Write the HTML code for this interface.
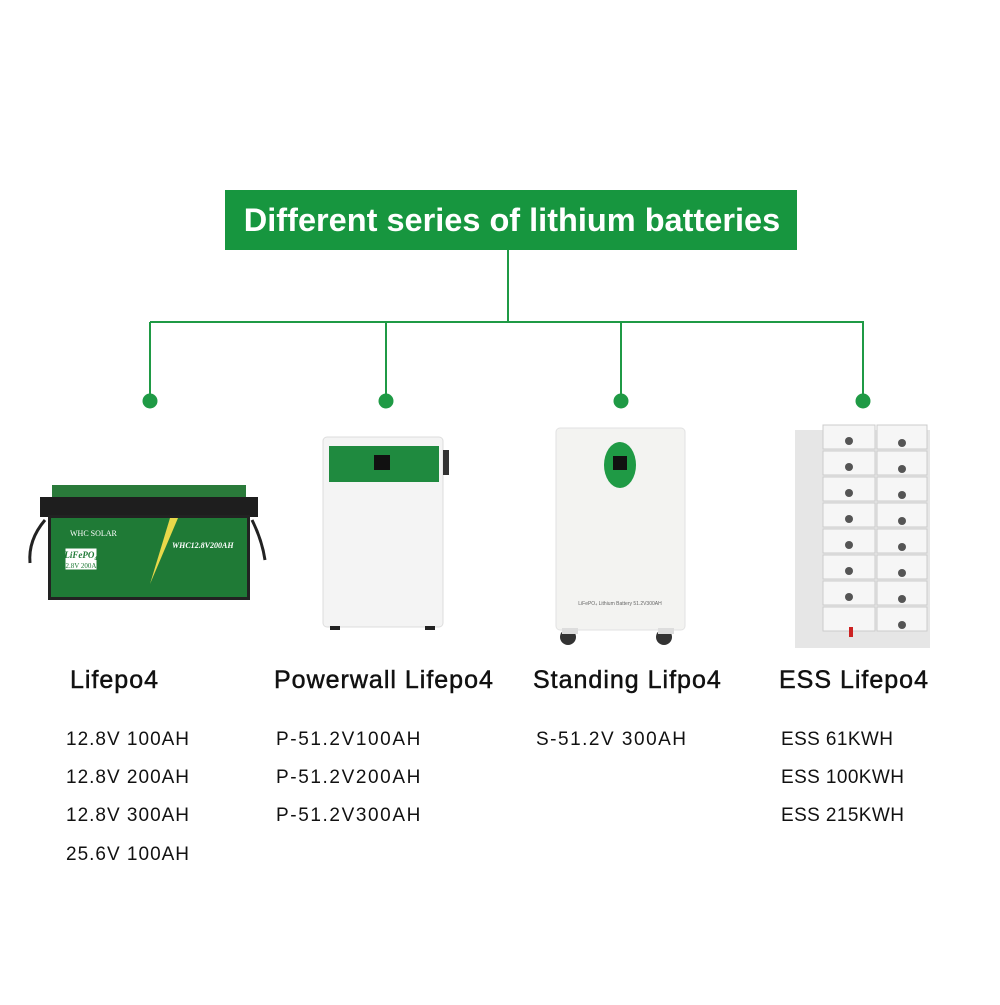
<!DOCTYPE html>
<html><head><style>
body{margin:0;background:#fff;}
.t{font-family:"Liberation Sans",sans-serif;}
</style></head><body>
<svg width="1000" height="1000" viewBox="0 0 1000 1000" xmlns="http://www.w3.org/2000/svg" class="t">
<rect x="225" y="190" width="572" height="60" fill="#17963f"/>
<text x="512" y="231" text-anchor="middle" fill="#fff" font-size="32.5" font-weight="bold" font-family="Liberation Sans,sans-serif">Different series of lithium batteries</text>
<g stroke="#1f9a45" stroke-width="2" fill="none">
<line x1="508" y1="250" x2="508" y2="322"/>
<line x1="150" y1="322" x2="864" y2="322"/>
<line x1="150" y1="322" x2="150" y2="401"/>
<line x1="386" y1="322" x2="386" y2="401"/>
<line x1="621" y1="322" x2="621" y2="401"/>
<line x1="863" y1="322" x2="863" y2="401"/>
</g>
<g fill="#1f9a45"><circle cx="150" cy="401" r="7.5"/><circle cx="386" cy="401" r="7.5"/><circle cx="621" cy="401" r="7.5"/><circle cx="863" cy="401" r="7.5"/></g>

<path d="M45 520 Q28 540 30 563" stroke="#222" stroke-width="3" fill="none"/>
<path d="M252 520 Q262 540 265 560" stroke="#222" stroke-width="3" fill="none"/>
<rect x="52" y="485" width="194" height="18" fill="#2a7a3a"/>
<rect x="40" y="497" width="218" height="20" fill="#1e1e1e"/>
<rect x="48" y="515" width="202" height="85" fill="#222"/>
<rect x="51" y="518" width="196" height="79" fill="#1f7a36"/>
<polygon points="170,518 150,584 178,518" fill="#e8d84a"/>
<rect x="65" y="548" width="32" height="22" fill="#fff" stroke="#1f7a36"/>
<text x="81" y="558" font-size="9" font-weight="bold" font-style="italic" text-anchor="middle" fill="#1f7a36" font-family="Liberation Serif,serif">LiFePO₄</text>
<text x="81" y="568" font-size="7" text-anchor="middle" fill="#1f7a36" font-family="Liberation Serif,serif">12.8V 200Ah</text>
<text x="70" y="536" font-size="8" fill="#fff" font-family="Liberation Serif,serif">WHC SOLAR</text>
<text x="172" y="548" font-size="8" font-style="italic" font-weight="bold" fill="#fff" font-family="Liberation Serif,serif">WHC12.8V200AH</text>

<rect x="323" y="437" width="120" height="190" rx="4" fill="#f4f4f4" stroke="#ddd"/>
<rect x="329" y="446" width="110" height="36" fill="#1f8a3f"/>
<rect x="374" y="455" width="16" height="15" fill="#111"/>
<rect x="443" y="450" width="6" height="25" fill="#333"/>
<rect x="330" y="626" width="10" height="4" fill="#222"/><rect x="425" y="626" width="10" height="4" fill="#222"/>

<rect x="556" y="428" width="129" height="202" rx="4" fill="#f3f3f1" stroke="#e2e2e2"/>
<ellipse cx="620" cy="465" rx="16" ry="23" fill="#1f9a45"/>
<rect x="613" y="456" width="14" height="14" fill="#111"/>
<text x="620" y="605" font-size="5" text-anchor="middle" fill="#666">LiFePO₄ Lithium Battery 51.2V300AH</text>
<circle cx="568" cy="637" r="8" fill="#333"/><circle cx="664" cy="637" r="8" fill="#333"/>
<rect x="562" y="628" width="16" height="6" fill="#ddd"/><rect x="658" y="628" width="16" height="6" fill="#ddd"/>

<rect x="795" y="430" width="135" height="218" fill="#e6e6e6"/>
<g id="rows">
<rect x="823" y="425" width="52" height="24" fill="#f6f6f6" stroke="#ccc"/>
<rect x="877" y="425" width="50" height="24" fill="#f6f6f6" stroke="#ccc"/>
</g>
<use href="#rows" y="26"/><use href="#rows" y="52"/><use href="#rows" y="78"/><use href="#rows" y="104"/><use href="#rows" y="130"/><use href="#rows" y="156"/><use href="#rows" y="182"/>
<g fill="#555">
<circle cx="849" cy="441" r="4"/><circle cx="902" cy="443" r="4"/><circle cx="849" cy="467" r="4"/><circle cx="902" cy="469" r="4"/>
<circle cx="849" cy="493" r="4"/><circle cx="902" cy="495" r="4"/><circle cx="849" cy="519" r="4"/><circle cx="902" cy="521" r="4"/>
<circle cx="849" cy="545" r="4"/><circle cx="902" cy="547" r="4"/><circle cx="849" cy="571" r="4"/><circle cx="902" cy="573" r="4"/>
<circle cx="849" cy="597" r="4"/><circle cx="902" cy="599" r="4"/><circle cx="902" cy="625" r="4"/>
</g>
<rect x="849" y="627" width="4" height="10" fill="#c22"/>

<g font-size="25" fill="#111" stroke="#111" stroke-width="0.5" letter-spacing="1">
<text x="70" y="688">Lifepo4</text>
<text x="274" y="688">Powerwall Lifepo4</text>
<text x="533" y="688">Standing Lifpo4</text>
<text x="779" y="688">ESS Lifepo4</text>
</g>
<g font-size="19" fill="#111">
<text x="66" y="745" letter-spacing="1">12.8V 100AH</text>
<text x="66" y="783" letter-spacing="1">12.8V 200AH</text>
<text x="66" y="821" letter-spacing="1">12.8V 300AH</text>
<text x="66" y="860" letter-spacing="1">25.6V 100AH</text>
<text x="276" y="745" letter-spacing="1.6">P-51.2V100AH</text>
<text x="276" y="783" letter-spacing="1.6">P-51.2V200AH</text>
<text x="276" y="821" letter-spacing="1.6">P-51.2V300AH</text>
<text x="536" y="745" letter-spacing="1.5">S-51.2V 300AH</text>
<text x="781" y="745" letter-spacing="0.4">ESS 61KWH</text>
<text x="781" y="783" letter-spacing="0.4">ESS 100KWH</text>
<text x="781" y="821" letter-spacing="0.4">ESS 215KWH</text>
</g>
</svg>
</body></html>
